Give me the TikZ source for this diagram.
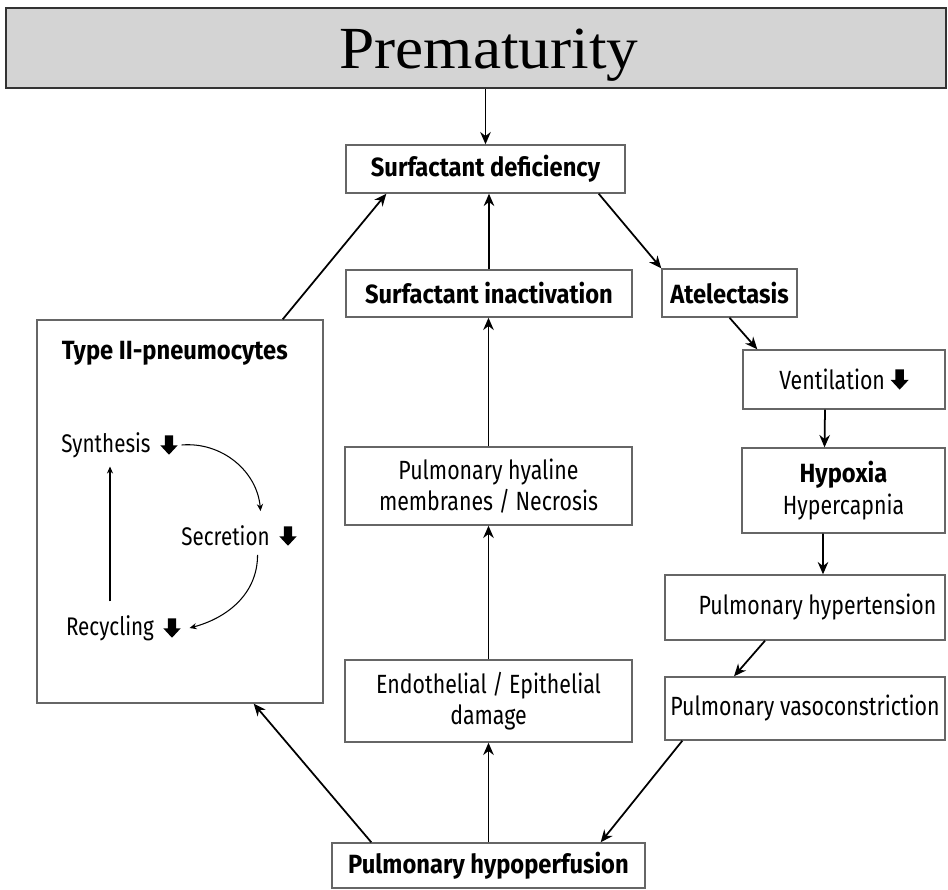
\documentclass[tikz,border=0pt]{standalone}
\usepackage{fontspec}
\setmainfont{Fira Sans}[FakeStretch=0.81, BoldFeatures={FakeStretch=0.9}]
\newfontfamily\titlefont{Liberation Serif}[FakeStretch=1.06]
\usetikzlibrary{arrows.meta,calc}

\newcommand{\dnarrow}{\tikz[baseline=0pt,x=1ex,y=1ex]\fill (-0.3,1.45) -- (0.3,1.45) -- (0.3,0.7) -- (0.65,0.7) -- (0,0) -- (-0.65,0.7) -- (-0.3,0.7) -- cycle;}

\tikzset{
  box/.style={draw=black!60, line width=0.8pt, inner sep=2pt, align=center,
    font=\fontsize{15}{18}\selectfont},
  boldbox/.style={box, font=\fontsize{15}{18}\selectfont\bfseries},
  txt/.style={inner sep=2pt, font=\fontsize{14.5}{17}\selectfont},
  flow/.style={-{Stealth[length=7pt,width=6pt]}, line width=1pt},
  cyc/.style={-{Stealth[length=4pt,width=3.5pt]}, line width=0.6pt},
}

\begin{document}
\begin{tikzpicture}[x=0.02cm,y=-0.02cm]
  \useasboundingbox (0,0) rectangle (948,890);
  % title bar
  \node[draw=black!80, line width=1.6pt, fill=black!17, minimum width=18.8cm, minimum height=1.6cm] (prem) at (476,48) {};
  \node[font=\titlefont\fontsize{34}{40}\selectfont, inner sep=0pt] (premtxt) at (489,55) {Prematurity};

  % middle column
  \node[boldbox, minimum width=5.58cm, minimum height=0.96cm] (defic) at (485.5,169) {Surfactant deficiency};
  \node[boldbox, minimum width=5.72cm, minimum height=0.94cm] (inact) at (489,293.5) {Surfactant inactivation};
  \node[box, minimum width=5.74cm, minimum height=1.56cm] (hyal) at (488.5,486) {Pulmonary hyaline\\membranes / Necrosis};
  \node[box, minimum width=5.74cm, minimum height=1.64cm] (endo) at (488.5,701) {Endothelial / Epithelial\\damage};
  \node[boldbox, minimum width=6.26cm, minimum height=0.9cm] (hypop) at (488.5,865.5) {Pulmonary hypoperfusion};

  % right column
  \node[boldbox, minimum width=2.7cm, minimum height=0.96cm] (atel) at (729.5,293) {Atelectasis};
  \node[box, minimum width=4.04cm, minimum height=1.18cm] (vent) at (844,379.5) {Ventilation \dnarrow};
  \node[box, minimum width=4.06cm, minimum height=1.7cm] (hypox) at (843.5,490.5) {\textbf{Hypoxia}\\Hypercapnia};
  \node[box, minimum width=5.6cm, minimum height=1.3cm] (hypert) at (805,607.5) {\hspace{0.5cm}Pulmonary hypertension};
  \node[box, minimum width=5.6cm, minimum height=1.26cm] (vaso) at (805,708.5) {Pulmonary vasoconstriction};

  % type II pneumocytes
  \node[box, minimum width=5.72cm, minimum height=7.66cm] (typeii) at (180,511.5) {};
  \node[txt, anchor=west, font=\fontsize{15}{18}\selectfont\bfseries] (tiihead) at (58,353) {Type II-pneumocytes};
  \node[txt] (synth) at (106,445) {Synthesis};
  \node[txt] (synthdn) at (169,445) {\dnarrow};
  \node[txt] (secr) at (225.5,536) {Secretion};
  \node[txt] (secrdn) at (288,536) {\dnarrow};
  \node[txt] (recy) at (110,628) {Recycling};
  \node[txt] (recydn) at (172,628) {\dnarrow};

  \draw[cyc] (synthdn.east) to[out=5,in=95] ([xshift=-0.26cm,yshift=0.22cm]secr.north east);
  \draw[cyc] ([xshift=-0.32cm,yshift=-0.1cm]secr.south east) to[out=-90,in=15] ([xshift=0.1cm]recydn.east);
  \draw[cyc] ([yshift=0.2cm]recy.north) -- ([yshift=-0.1cm]recy.north |- synth.south);

  % connectors
  \draw[flow] (prem.south -| defic.north) -- (defic.north);
  \draw[flow] (inact.north) -- (inact.north |- defic.south);
  \draw[flow] (hyal.north) -- (hyal.north |- inact.south);
  \draw[flow] (endo.north) -- (hyal.south);
  \draw[flow] (hypop.north) -- (endo.south);
  \draw[flow] ([xshift=-0.54cm]defic.south east) -- (atel.north west);
  \draw[flow] (atel.south) -- ([xshift=0.3cm]vent.north west);
  \draw[flow] ([xshift=-0.38cm]vent.south) -- ([xshift=-0.38cm]hypox.north);
  \draw[flow] ([xshift=-0.41cm]hypox.south) -- ([xshift=0.36cm]hypert.north);
  \draw[flow] ([xshift=-0.8cm]hypert.south) -- ([xshift=-1.42cm]vaso.north);
  \draw[flow] ([xshift=0.36cm]vaso.south west) -- ([xshift=-0.9cm]hypop.north east);
  \draw[flow] ([xshift=0.8cm]hypop.north west) -- ([xshift=-1.4cm]typeii.south east);
  \draw[flow] ([xshift=-0.82cm]typeii.north east) -- ([xshift=0.82cm]defic.south west);
\end{tikzpicture}
\end{document}
